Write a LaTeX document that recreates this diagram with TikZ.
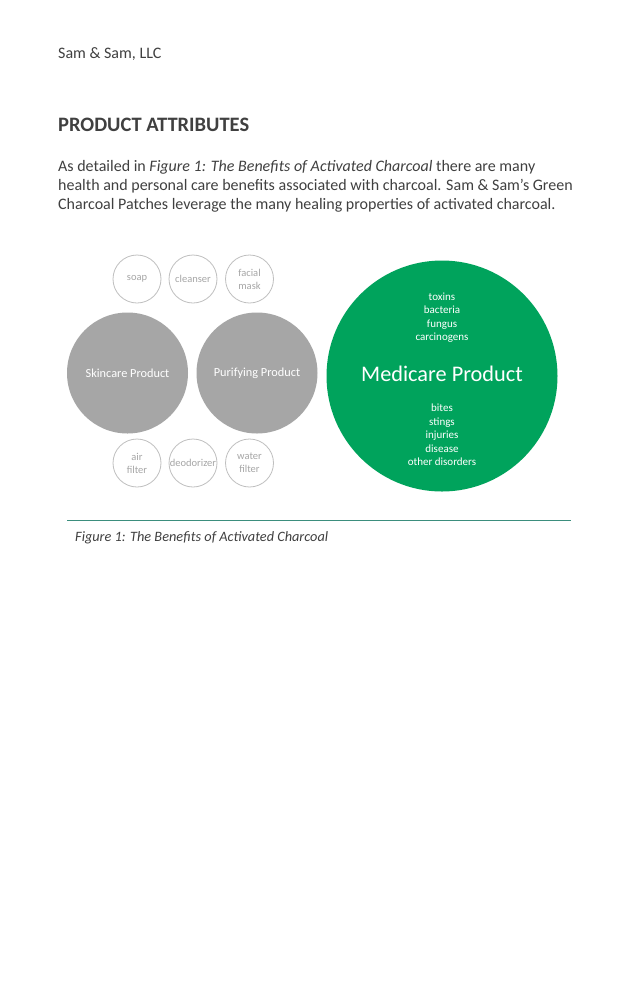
\documentclass[tikz,border=0pt]{standalone}
\usepackage{fontspec}
\setmainfont{Carlito}
\definecolor{txt}{HTML}{404040}
\definecolor{cgray}{HTML}{A6A6A6}
\definecolor{cline}{HTML}{BFBFBF}
\definecolor{cgreen}{HTML}{00A35C}
\definecolor{rule}{HTML}{3B8E7D}
\begin{document}
\begin{tikzpicture}[x=1pt,y=-1pt,
  body/.style={inner sep=0pt,anchor=base west,text=txt,font=\fontsize{16}{19.3}\selectfont},
  small/.style={circle,draw=cline,line width=0.8pt,fill=white,minimum size=48pt,inner sep=0pt,text=cgray,align=center,font=\fontsize{10.5}{13}\selectfont},
  big/.style={circle,fill=cgray,minimum size=121pt,inner sep=0pt,text=white,font=\fontsize{12.3}{14}\selectfont},
  med/.style={inner sep=0pt,anchor=base,text=white,font=\fontsize{11}{13}\selectfont}]
\useasboundingbox[fill=white] (0,0) rectangle (638,986);
\node[body] (hdr) at (58,58.3) {Sam \& Sam, LLC};
\node[body,font=\fontsize{20.5}{22}\bfseries] (head) at (58,131) {PRODUCT ATTRIBUTES};
\node[body] (l1) at (58,171) {As detailed in \textit{Figure 1: The Benefits of Activated Charcoal} there are many};
\node[body] (l2) at (58,190.3) {health and personal care benefits associated with charcoal. Sam \& Sam’s Green};
\node[body] (l3) at (58,209.6) {Charcoal Patches leverage the many healing properties of activated charcoal.};
% top small circles
\node[small] (soap) at (137,279) {soap};
\node[small] (cleanser) at (193,279) {cleanser};
\node[small] (facial) at (249.5,279) {facial\\mask};
% big gray circles
\node[big] (skin) at (127.5,373) {Skincare Product};
\node[big] (puri) at (257,373) {Purifying Product};
% bottom small circles
\node[small] (air) at (137,463) {air\\filter};
\node[small] (deo) at (193,463) {deodorizer};
\node[small] (water) at (249.5,463) {water\\filter};
% medicare
\node[circle,fill=cgreen,minimum size=231pt,inner sep=0pt] (medc) at (442,376) {};
\node[med] (t1) at (442,300) {toxins};
\node[med] (t2) at (442,313.5) {bacteria};
\node[med] (t3) at (442,327) {fungus};
\node[med] (t4) at (442,340.5) {carcinogens};
\node[inner sep=0pt,text=white,font=\fontsize{22.3}{24}\selectfont] (medt) at (442,374) {Medicare Product};
\node[med] (b1) at (442,411.5) {bites};
\node[med] (b2) at (442,425) {stings};
\node[med] (b3) at (442,438.5) {injuries};
\node[med] (b4) at (442,452) {disease};
\node[med] (b5) at (442,465.5) {other disorders};
% rule and caption
\coordinate (ra) at (67,520);
\coordinate (rb) at (571,520);
\draw[rule,line width=0.9pt] (ra) -- (rb);
\node[body,font=\fontsize{14.3}{16}\itshape] (cap) at (75,541.7) {Figure 1: The Benefits of Activated Charcoal};
\end{tikzpicture}
\end{document}
